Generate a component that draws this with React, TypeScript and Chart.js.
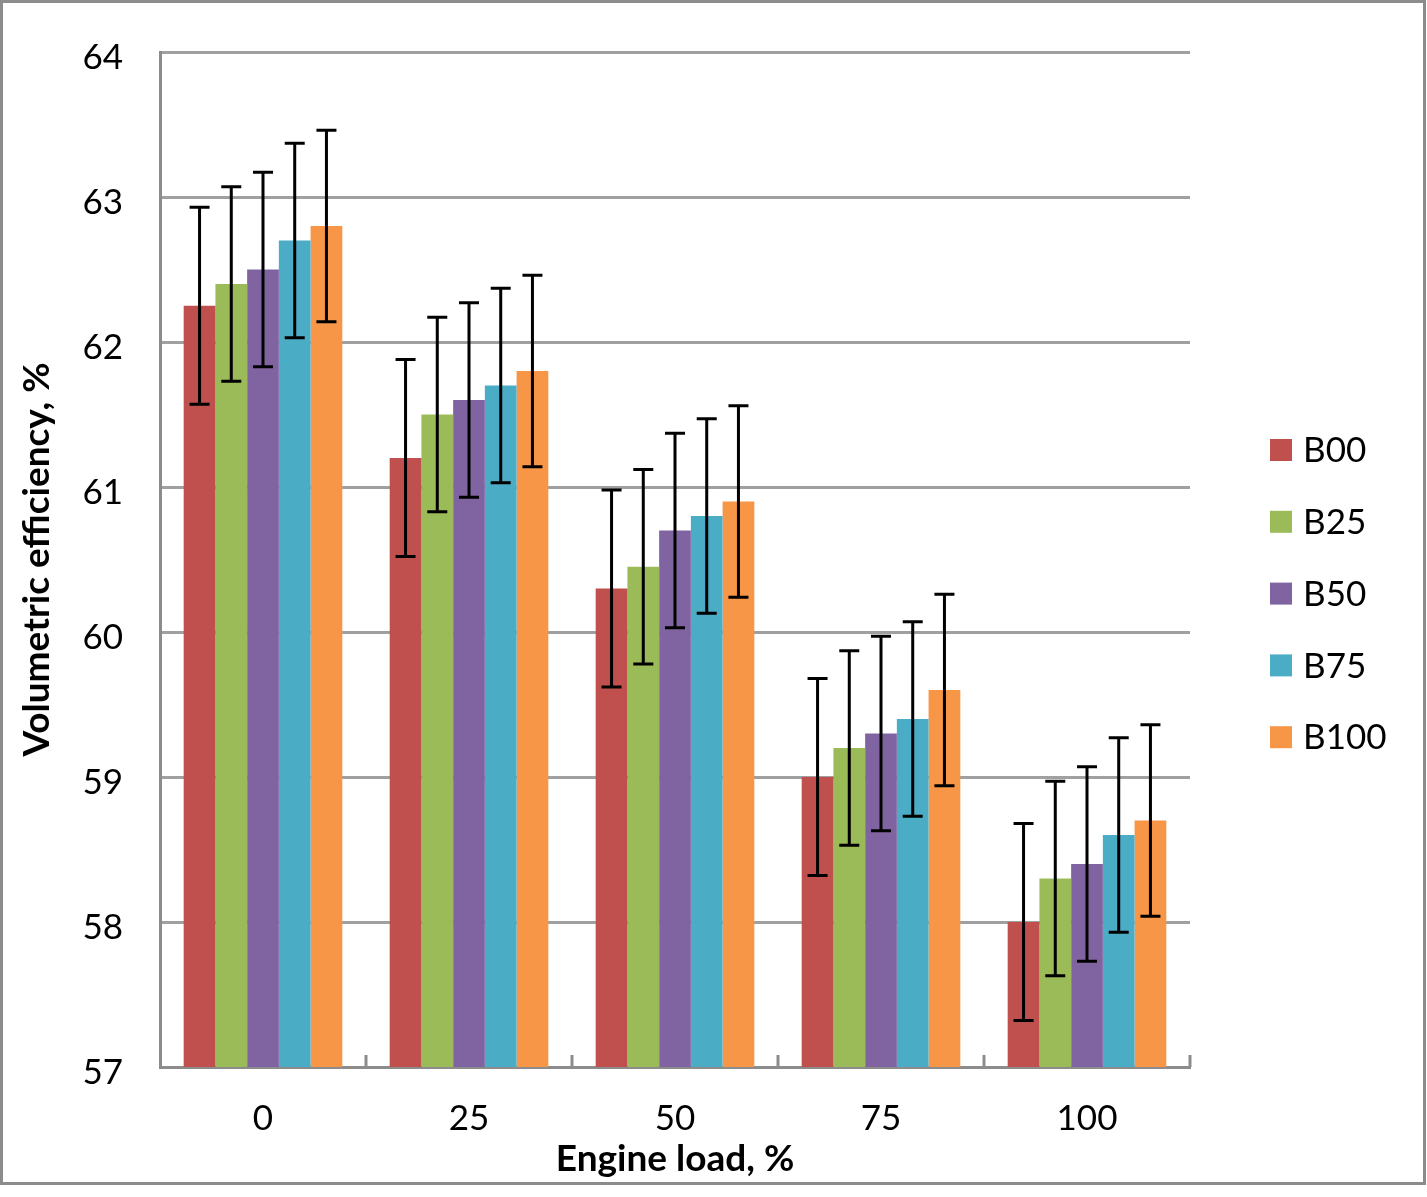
import React, { useEffect, useRef } from "react";
import { Chart, registerables } from "chart.js";

Chart.register(...registerables);

const categories = ["0", "25", "50", "75", "100"];
const seriesNames = ["B00", "B25", "B50", "B75", "B100"];
const seriesColors = ["#C0504D", "#9BBB59", "#8064A2", "#4BACC6", "#F79646"];
const b00 = [62.25, 61.2, 60.3, 59.0, 58.0];
const b25 = [62.4, 61.5, 60.45, 59.2, 58.3];
const b50 = [62.5, 61.6, 60.7, 59.3, 58.4];
const b75 = [62.7, 61.7, 60.8, 59.4, 58.6];
const b100 = [62.8, 61.8, 60.9, 59.6, 58.7];
const errB00 = [0.68, 0.68, 0.68, 0.68, 0.68];
const errB25 = [0.67, 0.67, 0.67, 0.67, 0.67];
const errB50 = [0.67, 0.67, 0.67, 0.67, 0.67];
const errB75 = [0.67, 0.67, 0.67, 0.67, 0.67];
const errB100 = [0.66, 0.66, 0.66, 0.66, 0.66];
const yTicks = [57, 58, 59, 60, 61, 62, 63, 64];

const FONT = "Lato, 'Open Sans', sans-serif";

const errorBarPlugin = {
  id: "errorBars",
  afterDatasetsDraw(chart: any) {
    const ctx = chart.ctx;
    const yScale = chart.scales.y;
    ctx.save();
    ctx.strokeStyle = "#000";
    ctx.lineWidth = 3;
    chart.data.datasets.forEach((ds: any, di: number) => {
      const meta = chart.getDatasetMeta(di);
      meta.data.forEach((bar: any, i: number) => {
        const v = ds.data[i];
        const e = ds.errors[i];
        const yt = yScale.getPixelForValue(v + e);
        const yb = yScale.getPixelForValue(v - e);
        const x = bar.x;
        const cap = 10;
        ctx.beginPath();
        ctx.moveTo(x, yt);
        ctx.lineTo(x, yb);
        ctx.moveTo(x - cap, yt);
        ctx.lineTo(x + cap, yt);
        ctx.moveTo(x - cap, yb);
        ctx.lineTo(x + cap, yb);
        ctx.stroke();
      });
    });
    ctx.restore();
  },
};

const decorPlugin = {
  id: "decor",
  beforeDraw(chart: any) {
    const ctx = chart.ctx;
    ctx.save();
    ctx.fillStyle = "#fff";
    ctx.fillRect(0, 0, chart.width, chart.height);
    ctx.restore();
  },
  afterDraw(chart: any) {
    const ctx = chart.ctx;
    const area = chart.chartArea;
    const xs = chart.scales.x;
    ctx.save();
    // inward category boundary ticks on x axis
    ctx.strokeStyle = "#8c8c8c";
    ctx.lineWidth = 3;
    const n = categories.length;
    const step = (xs.getPixelForValue(1) - xs.getPixelForValue(0));
    for (let i = 1; i <= n; i++) {
      const x = xs.getPixelForValue(i - 1) + step / 2;
      ctx.beginPath();
      ctx.moveTo(x, area.bottom);
      ctx.lineTo(x, area.bottom - 12);
      ctx.stroke();
    }
    // legend
    const lx = 1270;
    const ly0 = 450;
    const gap = 71.8;
    ctx.font = `35px ${FONT}`;
    ctx.textBaseline = "middle";
    ctx.textAlign = "left";
    seriesNames.forEach((name, i) => {
      const cy = ly0 + i * gap;
      ctx.fillStyle = seriesColors[i];
      ctx.fillRect(lx, cy - 11, 22, 22);
      ctx.fillStyle = "#000";
      ctx.fillText(name, lx + 33, cy + 1);
    });
    // outer frame
    ctx.strokeStyle = "#8c8c8c";
    ctx.lineWidth = 3;
    ctx.strokeRect(1.5, 1.5, 1423, 1182);
    ctx.restore();
  },
};

export default function App() {
  const ref = useRef<HTMLCanvasElement>(null);
  useEffect(() => {
    document.body.style.margin = "0";
    const seriesData = [b00, b25, b50, b75, b100];
    const seriesErr = [errB00, errB25, errB50, errB75, errB100];
    const chart = new Chart(ref.current as HTMLCanvasElement, {
      type: "bar",
      data: {
        labels: categories,
        datasets: seriesNames.map((name, i) => ({
          label: name,
          data: seriesData[i],
          errors: seriesErr[i],
          backgroundColor: seriesColors[i],
          borderWidth: 0,
          categoryPercentage: 0.77,
          barPercentage: 1.0,
        })) as any,
      },
      options: {
        animation: false,
        responsive: false,
        devicePixelRatio: 1,
        layout: { padding: { top: 52, right: 237, left: 0, bottom: 0 } },
        plugins: {
          legend: { display: false },
          tooltip: { enabled: false },
        },
        scales: {
          x: {
            grid: { display: false, drawTicks: false },
            border: { display: true, color: "#8c8c8c", width: 3 },
            ticks: {
              color: "#000",
              font: { family: FONT, size: 35 },
              padding: 31,
            },
            title: {
              display: true,
              text: "Engine load, %",
              color: "#000",
              font: { family: FONT, size: 37, weight: "bold" },
              padding: { top: 0, bottom: 16 },
            },
            afterFit(scale: any) {
              scale.height = 130;
              scale.paddingLeft = 0;
              scale.paddingRight = 0;
            },
          },
          y: {
            min: 57,
            max: 64,
            afterBuildTicks(scale: any) {
              scale.ticks = yTicks.map((v) => ({ value: v }));
            },
            grid: {
              color: "#a0a0a0",
              lineWidth: 3,
              drawTicks: false,
            },
            border: { display: true, color: "#8c8c8c", width: 3 },
            ticks: {
              color: "#000",
              font: { family: FONT, size: 35 },
              padding: 37,
              labelOffset: 6,
            },
            title: {
              display: true,
              text: "Volumetric efficiency, %",
              color: "#000",
              font: { family: FONT, size: 37, weight: "bold" },
              padding: { top: 15, bottom: 0 },
            },
            afterFit(scale: any) {
              scale.width = 160;
              scale.paddingTop = 0;
              scale.paddingBottom = 0;
            },
          },
        },
      },
      plugins: [errorBarPlugin, decorPlugin],
    });
    return () => chart.destroy();
  }, []);
  return (
    <div style={{ width: 1427, height: 1197 }}>
      <canvas ref={ref} width={1427} height={1197} style={{ display: "block" }} />
    </div>
  );
}
